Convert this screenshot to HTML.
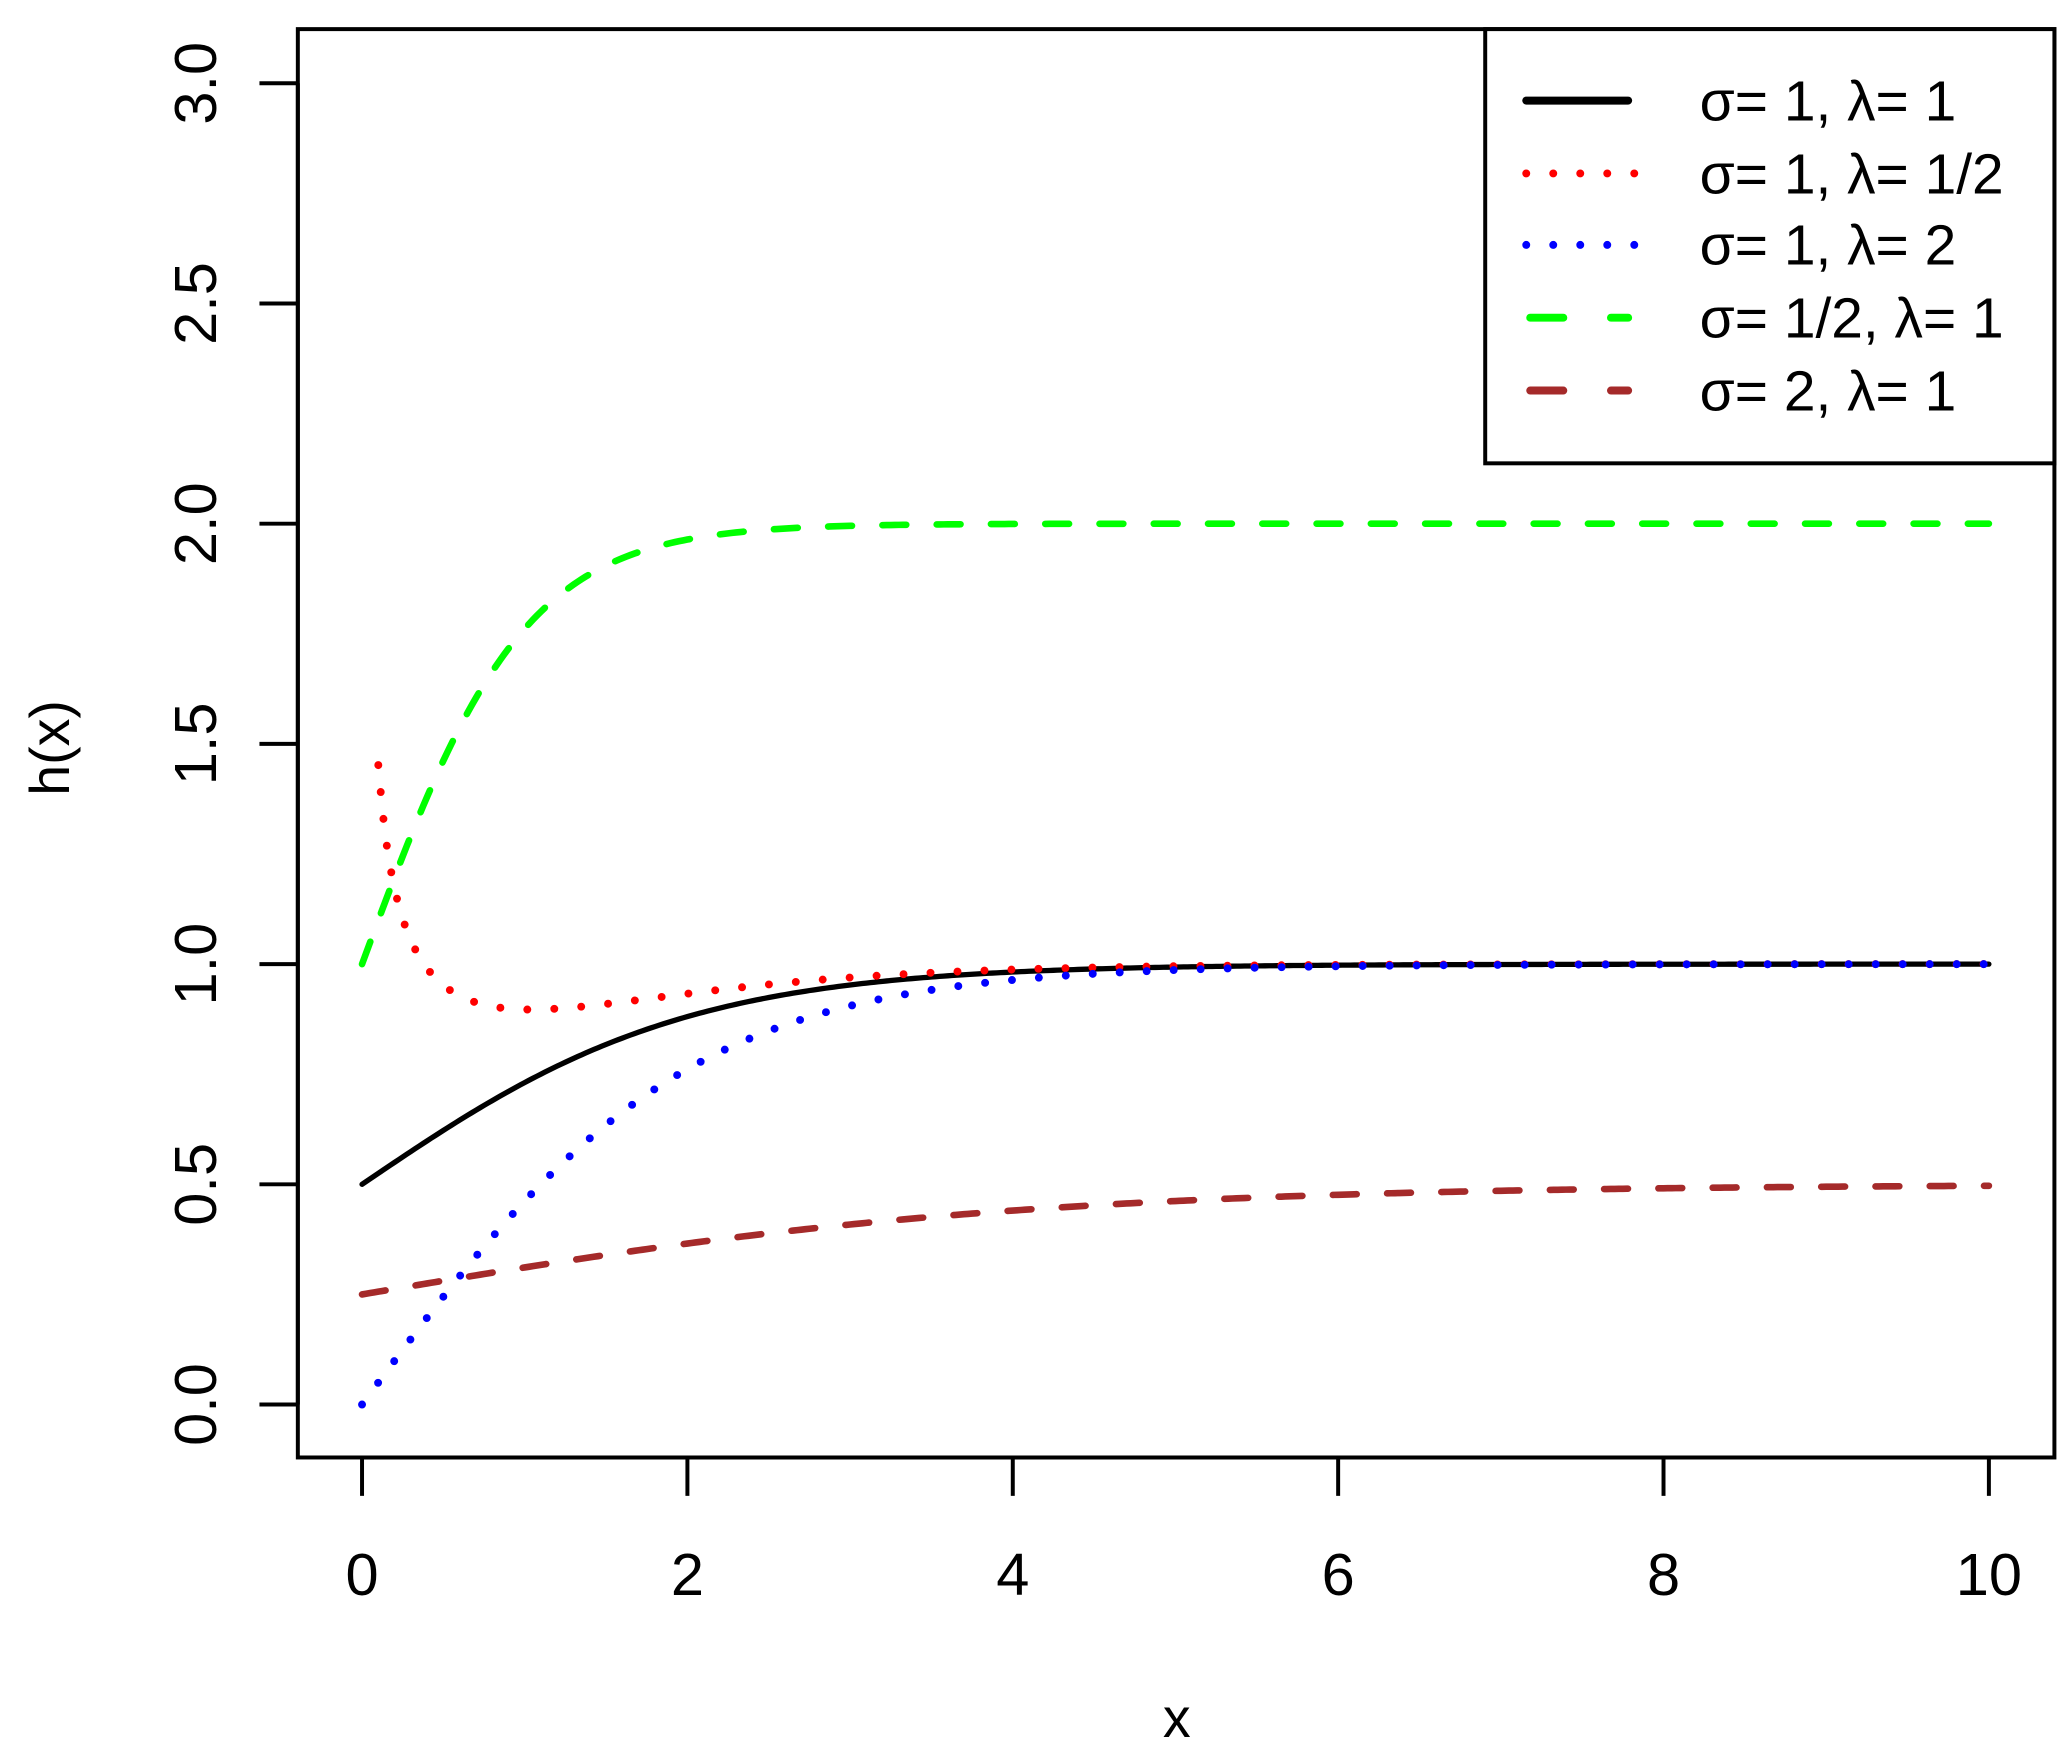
<!DOCTYPE html>
<html><head><meta charset="utf-8"><style>html,body{margin:0;padding:0;background:#fff}svg{display:block}</style></head>
<body>
<svg id="s" width="2065" height="1754" viewBox="0 0 1560 1325" preserveAspectRatio="none" xmlns="http://www.w3.org/2000/svg" font-family="'Liberation Sans', 'DejaVu Sans', sans-serif">
<rect width="1560" height="1325" fill="#fff"/>
<rect x="225" y="22" width="1327" height="1079" fill="none" stroke="#000" stroke-width="3"/>
<g id="curves" fill="none" stroke-width="5"></g>
<g id="axes" stroke="#000" stroke-width="3"></g>
<g id="labels" font-size="45" fill="#000" text-anchor="middle"></g>
<text x="889" y="1312" font-size="42" text-anchor="middle">x</text>
<text transform="translate(52,565) rotate(-90)" font-size="42" text-anchor="middle">h(x)</text>
<rect x="1122" y="22" width="430" height="328" fill="#fff" stroke="#000" stroke-width="3"/>
<g stroke-width="6" fill="none">
<line x1="1153" y1="76" x2="1230" y2="76" stroke="#000" stroke-linecap="round" stroke-width="6"/>
<line x1="1153" y1="131" x2="1235" y2="131" stroke="#f00" stroke-linecap="round" stroke-dasharray="0 20.4"/>
<line x1="1153" y1="185" x2="1235" y2="185" stroke="#00f" stroke-linecap="round" stroke-dasharray="0 20.4"/>
<line x1="1156" y1="240" x2="1230" y2="240" stroke="#0f0" stroke-linecap="round" stroke-dasharray="25 36"/>
<line x1="1156" y1="295" x2="1230" y2="295" stroke="#a52a2a" stroke-linecap="round" stroke-dasharray="25 36"/>
</g>
<g font-size="43" fill="#000">
<text x="1284" y="91">σ= 1, λ= 1</text>
<text x="1284" y="146">σ= 1, λ= 1/2</text>
<text x="1284" y="200">σ= 1, λ= 2</text>
<text x="1284" y="255">σ= 1/2, λ= 1</text>
<text x="1284" y="310">σ= 2, λ= 1</text>
</g>
</svg>
<script>
var X0=273.5,XS=122.9,Y0=1061,YS=332.7;
function px(x){return X0+XS*x}function py(y){return Y0-YS*y}
function g(x){return 1/(1+Math.exp(-x))}
function path(f,a,b,col,da,w){var d="";var n=400;for(var i=0;i<=n;i++){var x=a+(b-a)*i/n;var y=f(x);d+=(i?"L":"M")+px(x).toFixed(2)+","+py(y).toFixed(2)}
var p=document.createElementNS("http://www.w3.org/2000/svg","path");p.setAttribute("d",d);p.setAttribute("stroke",col);p.setAttribute("stroke-linecap","round");if(w)p.setAttribute("stroke-width",w);if(da)p.setAttribute("stroke-dasharray",da);document.getElementById("curves").appendChild(p)}
path(function(x){return g(x)},0,10,"#000",null,4);
path(function(x){return g(x)+0.617*(1-g(x))/Math.sqrt(x)},0.1,10,"#f00","0 20.4",6);
path(function(x){return 2*g(x)-1},0,10,"#00f","0 20.4",6);
path(function(x){return 2*g(2*x)},0,10,"#0f0","18 23",5);
path(function(x){return 0.5*g(x/2)},0,10,"#a52a2a","18 23",5);
var ax=document.getElementById("axes"),lb=document.getElementById("labels"),NS="http://www.w3.org/2000/svg";
function ln(x1,y1,x2,y2){var l=document.createElementNS(NS,"line");l.setAttribute("x1",x1);l.setAttribute("y1",y1);l.setAttribute("x2",x2);l.setAttribute("y2",y2);ax.appendChild(l)}
ln(px(0),1101,px(10),1101);
for(var i=0;i<=10;i+=2){ln(px(i),1101,px(i),1130);var t=document.createElementNS(NS,"text");t.setAttribute("x",px(i));t.setAttribute("y",1205);t.textContent=i;lb.appendChild(t)}
ln(225,py(0),225,py(3));
for(var k=0;k<=6;k++){var v=k*0.5;ln(196,py(v),225,py(v));var t=document.createElementNS(NS,"text");t.setAttribute("transform","translate(163,"+py(v)+") rotate(-90)");t.textContent=v.toFixed(1);lb.appendChild(t)}
</script>
</body></html>
